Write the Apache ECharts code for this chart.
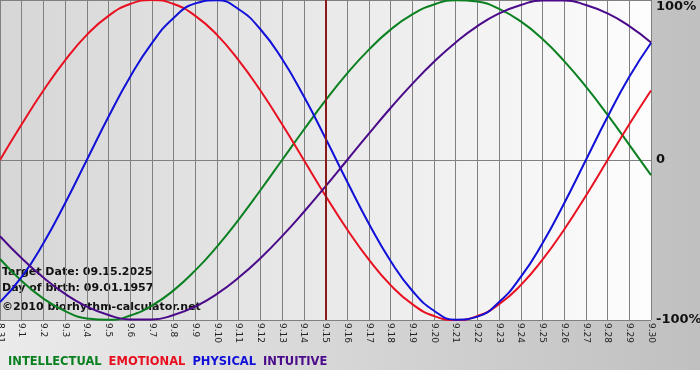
<!DOCTYPE html>
<html><head><meta charset="utf-8">
<script src="https://cdn.jsdelivr.net/npm/echarts@6/dist/echarts.min.js"></script>
<style>html,body{margin:0;padding:0;background:#fff}#c{width:700px;height:380px}</style>
</head><body><div id="c"></div>
<script>
const days = ['8.31','9.1','9.2','9.3','9.4','9.5','9.6','9.7','9.8','9.9','9.10','9.11','9.12','9.13','9.14','9.15','9.16','9.17','9.18','9.19','9.20','9.21','9.22','9.23','9.24','9.25','9.26','9.27','9.28','9.29','9.30'];
const intellectual = [-61.8,-75.6,-86.6,-94.5,-99.0,-99.9,-97.2,-91.0,-81.5,-69.0,-54.1,-37.2,-18.9,0,18.9,37.2,54.1,69.0,81.5,91.0,97.2,99.9,99.0,94.5,86.6,75.6,61.8,45.8,28.2,9.5,-9.5];
const emotional = [0,22.3,43.4,62.3,78.2,90.1,97.5,100,97.5,90.1,78.2,62.3,43.4,22.3,0,-22.3,-43.4,-62.3,-78.2,-90.1,-97.5,-100,-97.5,-90.1,-78.2,-62.3,-43.4,-22.3,0,22.3,43.4];
const physical = [-88.8,-73.1,-52.0,-27.0,0,27.0,52.0,73.1,88.8,97.9,99.8,94.2,81.7,63.1,39.8,13.6,-13.6,-39.8,-63.1,-81.7,-94.2,-99.8,-97.9,-88.8,-73.1,-52.0,-27.0,0,27.0,52.0,73.1];
const intuitive = [-47.6,-61.4,-73.5,-83.7,-91.6,-96.9,-99.7,-99.7,-96.9,-91.6,-83.7,-73.5,-61.4,-47.6,-32.5,-16.5,0,16.5,32.5,47.6,61.4,73.5,83.7,91.6,96.9,99.7,99.7,96.9,91.6,83.7,73.5];
const yTicks = {min:-100, max:100, step:100};
const targetDay = '9.15';
const infoLines = ['Target Date: 09.15.2025','Day of birth: 09.01.1957','©2010 biorhythm-calculator.net'];

const colors = {INTELLECTUAL:'#0a8020', EMOTIONAL:'#e81020', PHYSICAL:'#1010d8', INTUITIVE:'#4a0a8a'};
const F = 'DejaVu Sans, Verdana, sans-serif';
const chart = echarts.init(document.getElementById('c'));
function ser(name, data, extra){
  return Object.assign({name, type:'line', data, smooth:true, symbol:'none',
    lineStyle:{width:2, color:colors[name]}, itemStyle:{color:colors[name]}}, extra||{});
}
chart.setOption({
  animation:false,
  backgroundColor:{type:'linear',x:0,y:0,x2:1,y2:0,colorStops:[{offset:0,color:'#ebebeb'},{offset:1,color:'#c0c0c0'}]},
  grid:{left:0,right:49,top:0,bottom:60,show:true,borderWidth:0,containLabel:false,outerBoundsMode:'none',
    backgroundColor:{type:'linear',x:0,y:0,x2:1,y2:0,colorStops:[{offset:0,color:'#d6d6d6'},{offset:1,color:'#fdfdfd'}]}},
  xAxis:{type:'category',data:days,boundaryGap:false,
    axisLine:{show:true,lineStyle:{color:'#808080',width:1}},
    axisTick:{show:true,length:3,interval:0,lineStyle:{color:'#808080'}},
    splitLine:{show:true,interval:0,lineStyle:{color:'#808080',width:1}},
    axisLabel:{interval:0,rotate:-90,margin:3,fontFamily:F,fontSize:9,color:'#222'}},
  yAxis:{type:'value',position:'right',min:yTicks.min,max:yTicks.max,interval:yTicks.step,
    axisLine:{show:false},axisTick:{show:false},
    splitLine:{show:true,lineStyle:{color:'#808080',width:1}},
    axisLabel:{margin:5,fontFamily:F,fontWeight:'bold',fontSize:13,color:'#111',
      verticalAlignMaxLabel:'top',
      formatter:v=>v===0?'0':v+'%'}},
  legend:{left:-2,bottom:7,icon:'none',itemWidth:0,itemHeight:0,itemGap:2,selectedMode:false,
    textStyle:{fontFamily:F,fontWeight:'bold',fontSize:11.5},
    data:Object.keys(colors).map(n=>({name:n,textStyle:{color:colors[n]}}))},
  graphic:[
    {type:'rect',left:0,top:370,shape:{width:700,height:10},style:{fill:'#ffffff'},silent:true},
    {type:'text',left:2,top:267,style:{text:infoLines[0],font:'bold 11px '+F,fill:'#111'}},
    {type:'text',left:2,top:283,style:{text:infoLines[1],font:'bold 11px '+F,fill:'#111'}},
    {type:'text',left:2,top:302,style:{text:infoLines[2],font:'bold 11px '+F,fill:'#111'}}
  ],
  series:[
    ser('INTELLECTUAL',intellectual),
    ser('EMOTIONAL',emotional),
    ser('PHYSICAL',physical),
    ser('INTUITIVE',intuitive,{markLine:{silent:true,symbol:'none',label:{show:false},
      lineStyle:{color:'#8b1a1a',width:2,type:'solid'},data:[{xAxis:targetDay}]}})
  ]
});
</script></body></html>
